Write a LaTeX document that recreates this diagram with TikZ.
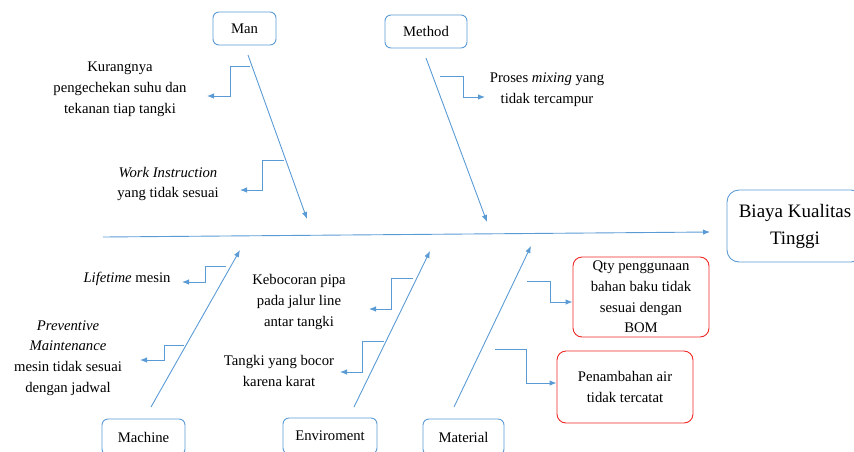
\documentclass[tikz,border=0pt]{standalone}
\usepackage{fontspec}
\setmainfont{Liberation Serif}
\usetikzlibrary{arrows.meta}
\definecolor{bl}{RGB}{91,155,213}
\definecolor{rd}{RGB}{240,40,40}
\tikzset{
  bone/.style={draw=bl, line width=0.9pt, -{Latex[length=7pt,width=5.5pt]}},
  sub/.style={draw=bl, line width=0.9pt, -{Latex[length=7pt,width=5.5pt]}},
  catbox/.style={draw=bl, line width=0.9pt, rounded corners=6pt, font=\fontsize{14.7}{20.6}\selectfont, inner sep=0pt},
  redbox/.style={draw=rd, line width=0.9pt, rounded corners=9pt, align=center, font=\fontsize{14.7}{20.6}\selectfont, inner sep=0pt},
  lbl/.style={align=center, font=\fontsize{14.7}{20.8}\selectfont, inner sep=0pt}
}
\begin{document}
\begin{tikzpicture}[x=1pt,y=-1pt]
\useasboundingbox (0,0) rectangle (854,451);
\clip (0,0) rectangle (854,451);
% category boxes
\node[catbox, minimum width=63pt, minimum height=33pt] (man) at (244.5,28.5) {Man};
\node[catbox, minimum width=82pt, minimum height=33pt] (method) at (426,31.5) {Method};
\node[catbox, minimum width=83pt, minimum height=36pt] (machine) at (143.5,437) {Machine};
\node[catbox, minimum width=94pt, minimum height=36pt] (env) at (330,436) {Enviroment};
\node[catbox, minimum width=81pt, minimum height=36pt] (material) at (463.5,437) {Material};
\node[catbox, minimum width=136pt, minimum height=72pt, rounded corners=12pt, align=center, font=\fontsize{19}{27}\selectfont] (effect) at (795,226) {Biaya Kualitas\\Tinggi};
% spine
\coordinate (sL) at (103,237);
\coordinate (sR) at (710,232);
\draw[bone] (sL) -- (sR);
% bones
\coordinate (manA) at (248,55);   \coordinate (manB) at (307,219);
\coordinate (metA) at (426,58);   \coordinate (metB) at (487,222);
\coordinate (macA) at (151,407);  \coordinate (macB) at (240,250);
\coordinate (envA) at (354,407);  \coordinate (envB) at (430,251);
\coordinate (matA) at (454,407);  \coordinate (matB) at (531,246);
\draw[bone] (manA) -- (manB);
\draw[bone] (metA) -- (metB);
\draw[bone] (macA) -- (macB);
\draw[bone] (envA) -- (envB);
\draw[bone] (matA) -- (matB);
% cause labels
\node[lbl] (k1) at (120,89.5) {Kurangnya\\pengechekan suhu dan\\tekanan tiap tangki};
\node[lbl] (k2) at (168,184) {\textit{Work Instruction}\\yang tidak sesuai};
\node[lbl] (k3) at (547,90) {Proses \textit{mixing} yang\\tidak tercampur};
\node[lbl] (k4) at (127,279) {\textit{Lifetime} mesin};
\node[lbl] (k5) at (68,358) {\textit{Preventive}\\\textit{Maintenance}\\mesin tidak sesuai\\dengan jadwal};
\node[lbl] (k6) at (299,302) {Kebocoran pipa\\pada jalur line\\antar tangki};
\node[lbl] (k7) at (279,371) {Tangki yang bocor\\karena karat};
\node[redbox, minimum width=136pt, minimum height=80pt] (k8) at (641,297) {Qty penggunaan\\bahan baku tidak\\sesuai dengan\\BOM};
\node[redbox, minimum width=136pt, minimum height=72pt] (k9) at (625,387) {Penambahan air\\tidak tercatat};
% sub-branch coordinates
\coordinate (a1) at (250,66);  \coordinate (t1) at (207,96);
\coordinate (a2) at (284,160); \coordinate (t2) at (240,190);
\coordinate (a3) at (440,76);  \coordinate (t3) at (485,97);
\coordinate (a4) at (226,266); \coordinate (t4) at (182,282);
\coordinate (a5) at (184,345); \coordinate (t5) at (140,360);
\coordinate (a6) at (413,278); \coordinate (t6) at (369,309);
\coordinate (a7) at (384,341); \coordinate (t7) at (340,372);
\coordinate (a8) at (527,281);
\coordinate (a9) at (495,349);
\draw[sub] (a1) -- (230,66) -- (230,96) -- (t1);
\draw[sub] (a2) -- (262,160) -- (262,190) -- (t2);
\draw[sub] (a3) -- (463,76) -- (463,97) -- (t3);
\draw[sub] (a4) -- (205,266) -- (205,282) -- (t4);
\draw[sub] (a5) -- (164,345) -- (164,360) -- (t5);
\draw[sub] (a6) -- (391,278) -- (391,309) -- (t6);
\draw[sub] (a7) -- (362,341) -- (362,372) -- (t7);
\draw[sub] (a8) -- (550,281) -- (550,302) -- (k8.west |- 0,302);
\draw[sub] (a9) -- (526,349) -- (526,383) -- (k9.west |- 0,383);
\end{tikzpicture}
\end{document}
